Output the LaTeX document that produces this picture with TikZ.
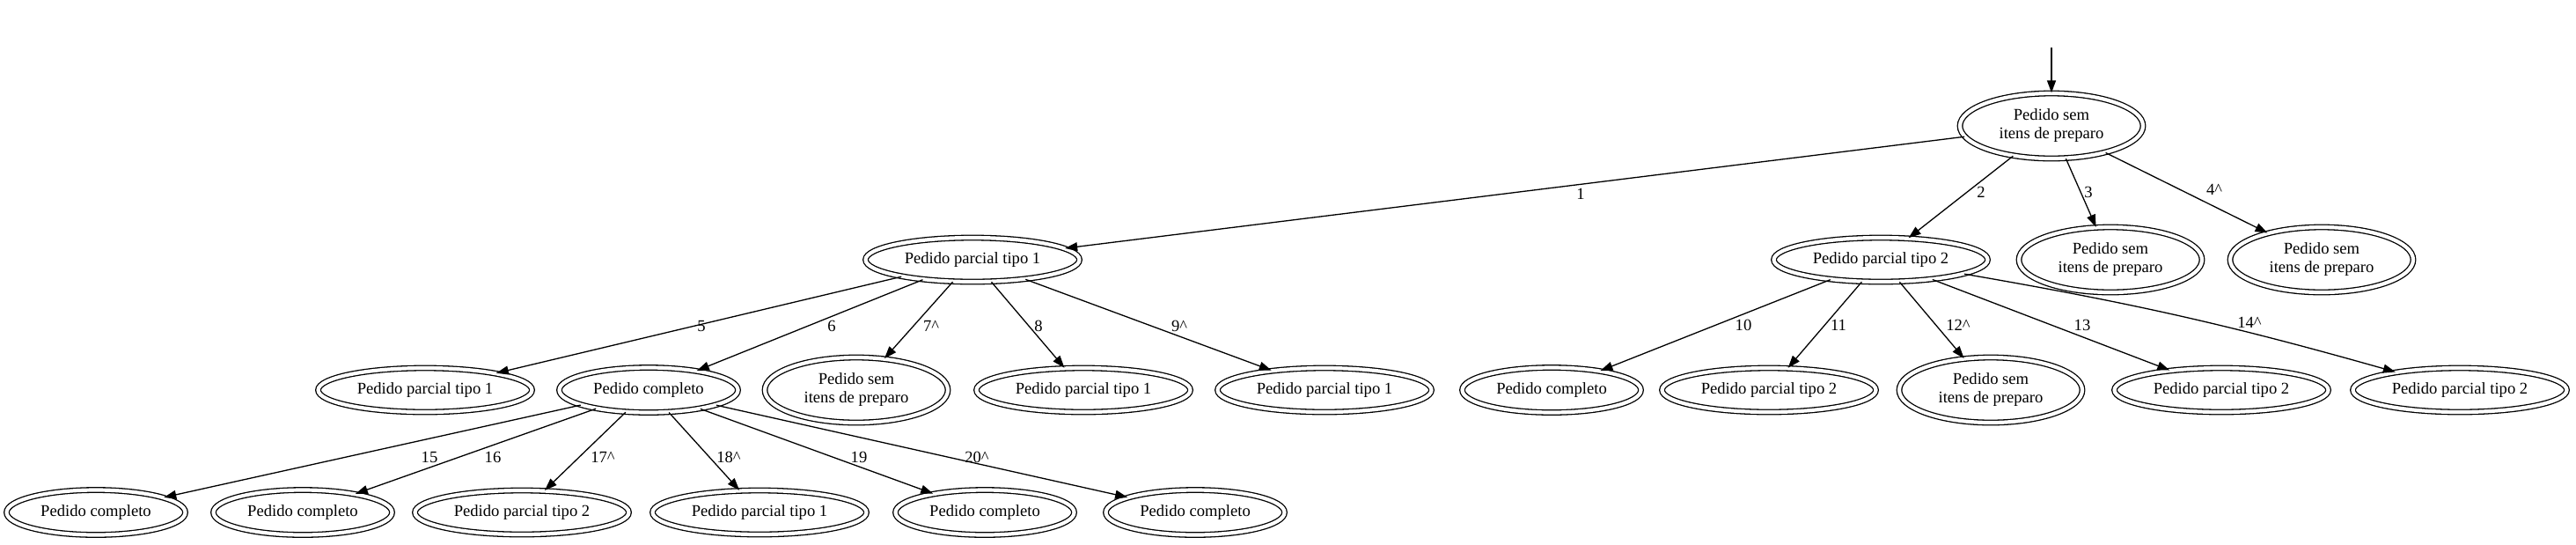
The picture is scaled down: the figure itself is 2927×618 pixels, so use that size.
\documentclass[tikz,border=0pt]{standalone}
\usepackage{fontspec}
\setmainfont{Liberation Serif}
\usetikzlibrary{shapes.geometric,arrows.meta}
\tikzset{
  st/.style={ellipse, draw, double, line width=0.65pt, double distance=2.1pt, inner sep=0pt,
    align=center, font=\fontsize{9.3}{10.5}\selectfont},
  pnode/.style={st, minimum width=121.5pt, minimum height=25pt},
  cnode/.style={st, minimum width=101.5pt, minimum height=25.5pt},
  snode/.style={st, minimum width=104pt, minimum height=37pt},
  edge/.style={draw, line width=0.65pt, -{Triangle[length=7pt,width=5pt]}},
  lbl/.style={inner sep=0pt, font=\fontsize{9.3}{10.5}\selectfont},
}
\begin{document}
\begin{tikzpicture}[x=0.5pt, y=-0.5pt]
\useasboundingbox (0,0) rectangle (2927,618);
% level 0
\coordinate (start) at (2331,54);
\node[snode] (r) at (2331,143) {Pedido sem\\itens de preparo};
% level 1
\node[pnode] (a1) at (1105,295) {Pedido parcial tipo 1};
\node[pnode] (a2) at (2137,295) {Pedido parcial tipo 2};
\node[snode] (a3) at (2398,295) {Pedido sem\\itens de preparo};
\node[snode] (a4) at (2638,295) {Pedido sem\\itens de preparo};
% level 2
\node[pnode] (b5) at (483,443) {Pedido parcial tipo 1};
\node[cnode] (b6) at (737,443) {Pedido completo};
\node[snode] (b7) at (973,443) {Pedido sem\\itens de preparo};
\node[pnode] (b8) at (1231,443) {Pedido parcial tipo 1};
\node[pnode] (b9) at (1505,443) {Pedido parcial tipo 1};
\node[cnode] (b10) at (1763,443) {Pedido completo};
\node[pnode] (b11) at (2010,443) {Pedido parcial tipo 2};
\node[snode] (b12) at (2262,443) {Pedido sem\\itens de preparo};
\node[pnode] (b13) at (2524,443) {Pedido parcial tipo 2};
\node[pnode] (b14) at (2795,443) {Pedido parcial tipo 2};
% level 3
\node[cnode] (c15) at (109,582) {Pedido completo};
\node[cnode] (c16) at (344,582) {Pedido completo};
\node[pnode] (c17) at (593,582) {Pedido parcial tipo 2};
\node[pnode] (c18) at (863,582) {Pedido parcial tipo 1};
\node[cnode] (c19) at (1119,582) {Pedido completo};
\node[cnode] (c20) at (1358,582) {Pedido completo};
% edges
\draw[edge] (start) -- (r);
\draw[edge] (r) -- (a1);
\draw[edge] (r) -- (a2);
\draw[edge] (r) -- (a3);
\draw[edge] (r) -- (a4);
\draw[edge] (a1) -- (b5);
\draw[edge] (a1) -- (b6);
\draw[edge] (a1) -- (b7);
\draw[edge] (a1) -- (b8);
\draw[edge] (a1) -- (b9);
\draw[edge] (a2) -- (b10);
\draw[edge] (a2) -- (b11);
\draw[edge] (a2) -- (b12);
\draw[edge] (a2) -- (b13);
\draw[edge] (a2) to[bend left=3] (b14);
\draw[edge] (b6) -- (c15);
\draw[edge] (b6) -- (c16);
\draw[edge] (b6) -- (c17);
\draw[edge] (b6) -- (c18);
\draw[edge] (b6) -- (c19);
\draw[edge] (b6) -- (c20);
% labels
\node[lbl] (l1) at (1796,220) {1};
\node[lbl] (l2) at (2251,218) {2};
\node[lbl] (l3) at (2373,218) {3};
\node[lbl] (l4) at (2516,215) {4\textasciicircum};
\node[lbl] (l5) at (797,370) {5};
\node[lbl] (l6) at (945,370) {6};
\node[lbl] (l7) at (1058,370) {7\textasciicircum};
\node[lbl] (l8) at (1180,370) {8};
\node[lbl] (l9) at (1340,370) {9\textasciicircum};
\node[lbl] (l10) at (1981,369) {10};
\node[lbl] (l11) at (2089,369) {11};
\node[lbl] (l12) at (2225,369) {12\textasciicircum};
\node[lbl] (l13) at (2366,369) {13};
\node[lbl] (l14) at (2556,366) {14\textasciicircum};
\node[lbl] (l15) at (488,519) {15};
\node[lbl] (l16) at (560,519) {16};
\node[lbl] (l17) at (685,519) {17\textasciicircum};
\node[lbl] (l18) at (828,519) {18\textasciicircum};
\node[lbl] (l19) at (976,519) {19};
\node[lbl] (l20) at (1110,519) {20\textasciicircum};
\end{tikzpicture}
\end{document}
